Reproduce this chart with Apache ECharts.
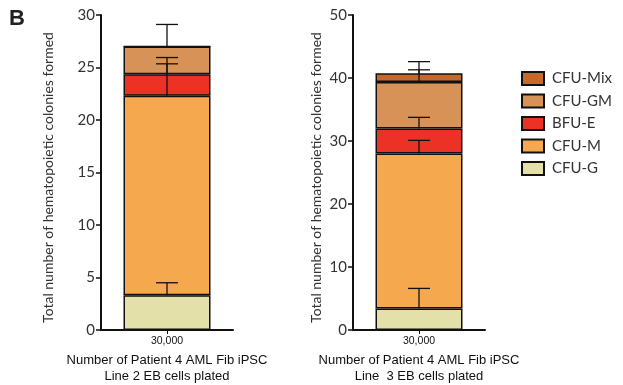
<!DOCTYPE html>
<html><head><meta charset="utf-8">
<script src="https://cdn.jsdelivr.net/npm/echarts@6/dist/echarts.min.js"></script>
<style>html,body{margin:0;padding:0;background:#fff}#c{width:623px;height:385px}</style>
</head><body><div id="c"></div>
<script>
// Data
var categories = ['30,000'];
var seriesNames = ['CFU-G', 'CFU-M', 'BFU-E', 'CFU-GM', 'CFU-Mix'];
var legendOrder = ['CFU-Mix', 'CFU-GM', 'BFU-E', 'CFU-M', 'CFU-G'];
// Left panel (Line 2) segment values
var line2Values = [3.3, 19.0, 2.05, 2.65, 0];
var line2Errors = [1.2, 3.05, 1.6, 2.1, 0];
// Right panel (Line 3) segment values
var line3Values = [3.4, 24.6, 4.0, 7.35, 1.4];
var line3Errors = [3.2, 2.1, 1.75, 1.95, 1.85];
var leftTicks = {min: 0, max: 30, interval: 5};
var rightTicks = {min: 0, max: 50, interval: 10};
var yTitle = 'Total number of hematopoietic colonies formed';
var xTitleLeft = 'Number of Patient 4 AML Fib iPSC\nLine 2 EB cells plated';
var xTitleRight = 'Number of Patient 4 AML Fib iPSC\nLine  3 EB cells plated';

var colors = {'CFU-G': '#E3E0A9', 'CFU-M': '#F6A84F', 'BFU-E': '#EC3224', 'CFU-GM': '#D79257', 'CFU-Mix': '#C4682B'};

function errData(vals, errs) {
  var out = [], cum = 0;
  for (var i = 0; i < vals.length; i++) {
    cum += vals[i];
    if (errs[i] > 0) out.push([0, cum, cum + errs[i]]);
  }
  return out;
}

function errRender(params, api) {
  var x = api.value(0), lo = api.value(1), hi = api.value(2);
  var p1 = api.coord([x, lo]), p2 = api.coord([x, hi]);
  var hw = 11;
  var st = {stroke: '#111', lineWidth: 1.3};
  return {type: 'group', children: [
    {type: 'line', shape: {x1: p1[0], y1: p1[1], x2: p2[0], y2: p2[1]}, style: st},
    {type: 'line', shape: {x1: p2[0] - hw, y1: p2[1], x2: p2[0] + hw, y2: p2[1]}, style: st}
  ]};
}

var series = [];
[line2Values, line3Values].forEach(function (vals, gi) {
  seriesNames.forEach(function (n, i) {
    series.push({
      name: n, type: 'bar', stack: 's' + gi, xAxisIndex: gi, yAxisIndex: gi,
      barWidth: 87, data: [vals[i]],
      itemStyle: {color: colors[n], borderColor: '#111', borderWidth: 1.5},
      emphasis: {disabled: true}
    });
  });
});
series.push({type: 'custom', xAxisIndex: 0, yAxisIndex: 0, renderItem: errRender, data: errData(line2Values, line2Errors), z: 10});
series.push({type: 'custom', xAxisIndex: 1, yAxisIndex: 1, renderItem: errRender, data: errData(line3Values, line3Errors), z: 10});

function xAxis(gi, name) {
  return {
    type: 'category', gridIndex: gi, data: categories,
    axisLine: {lineStyle: {color: '#111', width: 2}},
    axisTick: {show: true, alignWithLabel: true, length: 4, lineStyle: {color: '#111'}},
    axisLabel: {fontFamily: 'Liberation Sans', fontSize: 10.5, color: '#111', margin: 6},
    name: name, nameLocation: 'middle', nameGap: 16,
    nameTextStyle: {fontFamily: 'Liberation Sans', fontSize: 13, color: '#111', lineHeight: 16.5, verticalAlign: 'top'}
  };
}
function yAxis(gi, t, gap) {
  return {
    type: 'value', gridIndex: gi, min: t.min, max: t.max, interval: t.interval,
    splitLine: {show: false},
    axisLine: {show: true, lineStyle: {color: '#111', width: 2}},
    axisTick: {show: true, length: 5, lineStyle: {color: '#111', width: 1.5}},
    axisLabel: {fontFamily: 'Lato', fontSize: 15, color: '#333', margin: 6},
    name: yTitle, nameLocation: 'middle', nameGap: gap,
    nameTextStyle: {fontFamily: 'Lato', fontSize: 14, color: '#333', padding: [0, 10, 0, 0]}
  };
}

var chart = echarts.init(document.getElementById('c'), null, {renderer: 'canvas'});
chart.setOption({
  animation: false,
  title: {text: 'B', left: 9, top: 8, padding: 0, textStyle: {fontFamily: 'Liberation Sans', fontWeight: 'bold', fontSize: 22, color: '#222'}},
  grid: [
    {left: 101, top: 15, width: 132, bottom: 55, outerBoundsMode: 'none', containLabel: false},
    {left: 353, top: 15, width: 132, bottom: 55, outerBoundsMode: 'none', containLabel: false}
  ],
  xAxis: [xAxis(0, xTitleLeft), xAxis(1, xTitleRight)],
  yAxis: [yAxis(0, leftTicks, 46), yAxis(1, rightTicks, 30)],
  legend: {
    data: legendOrder, orient: 'vertical', left: 521, top: 71, padding: 0,
    itemWidth: 22, itemHeight: 13, itemGap: 7.5,
    icon: 'rect',
    itemStyle: {borderColor: '#111', borderWidth: 2},
    textStyle: {fontFamily: 'Lato', fontSize: 15, color: '#333', padding: [0, 0, 0, 3]}
  },
  series: series
});
</script></body></html>
